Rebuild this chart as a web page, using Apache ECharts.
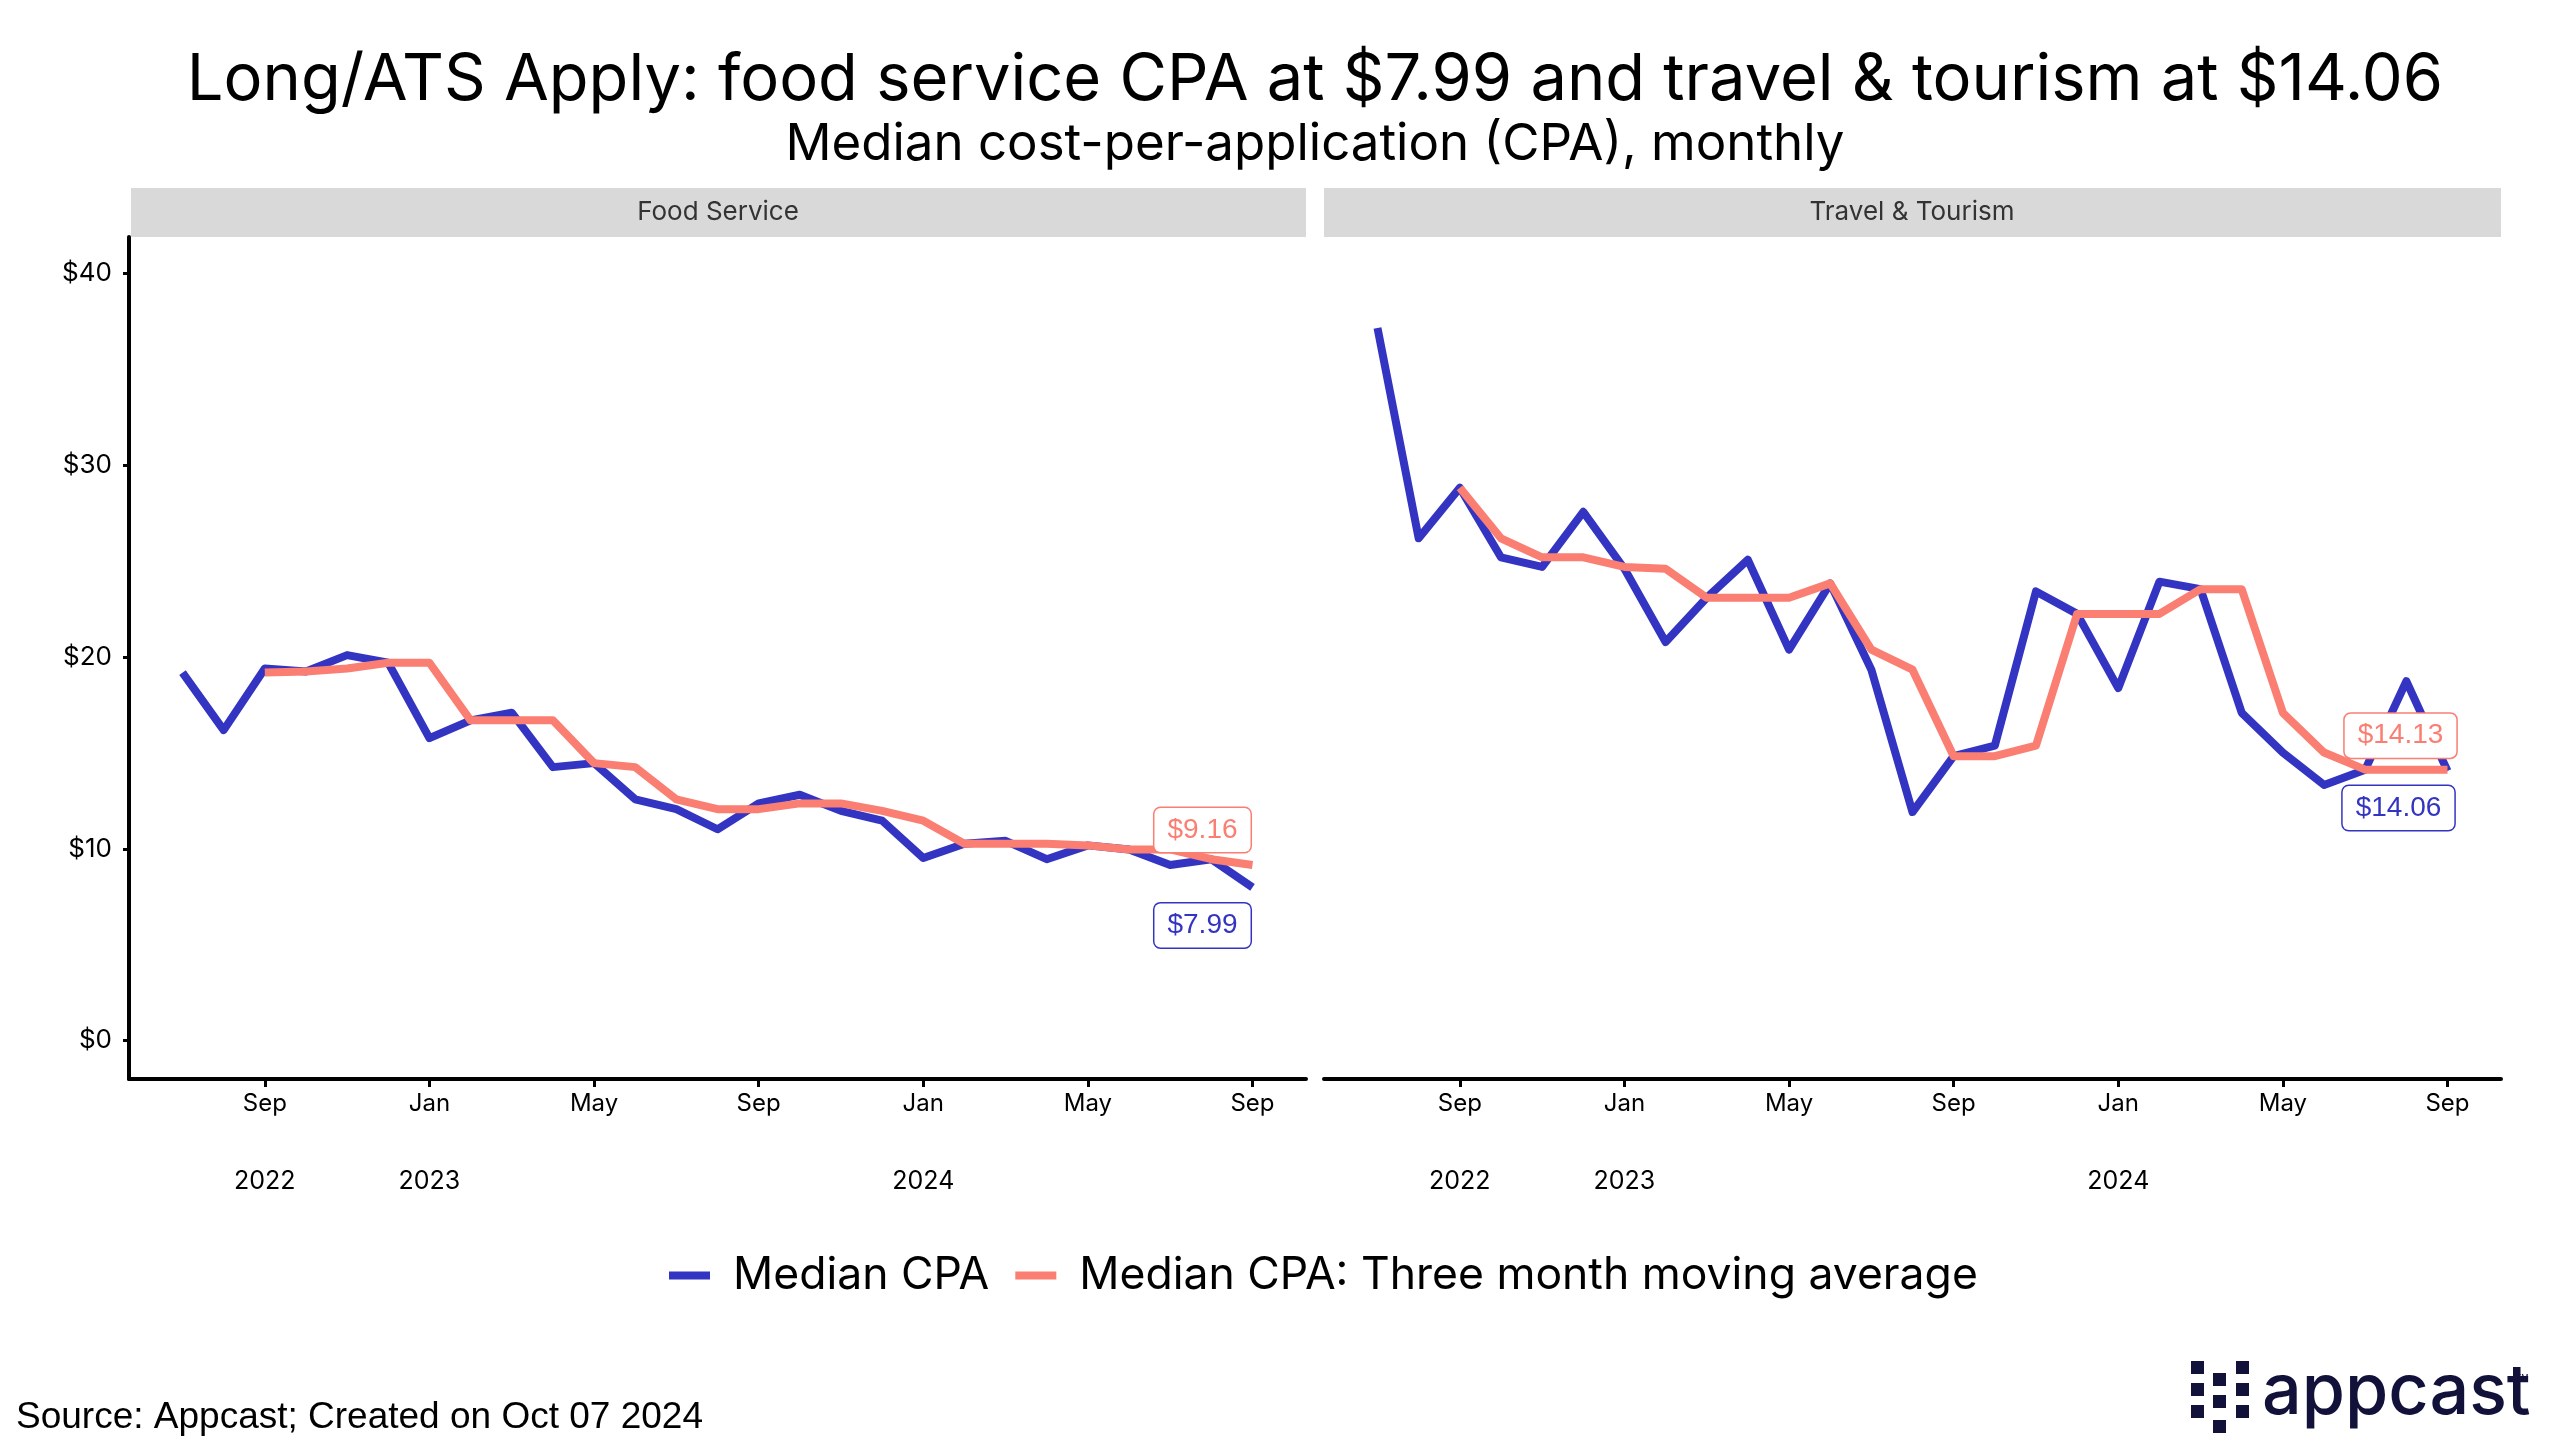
<!DOCTYPE html>
<html>
<head>
<meta charset="utf-8">
<script src="https://cdn.jsdelivr.net/npm/echarts@6/dist/echarts.min.js"></script>
<style>html,body{margin:0;padding:0;background:#fff}#c{width:2560px;height:1455px}</style>
</head>
<body>
<div id="c"></div>
<script>
// ---- data ----
const months = ['2022-07','2022-08','2022-09','2022-10','2022-11','2022-12',
  '2023-01','2023-02','2023-03','2023-04','2023-05','2023-06','2023-07','2023-08','2023-09','2023-10','2023-11','2023-12',
  '2024-01','2024-02','2024-03','2024-04','2024-05','2024-06','2024-07','2024-08','2024-09'];
const foodMedian = [19.19,16.19,19.40,19.25,20.10,19.70,15.77,16.70,17.10,14.26,14.47,12.58,12.07,11.02,12.37,12.82,11.98,11.47,9.52,10.27,10.42,9.46,10.18,9.97,9.16,9.46,7.99];
const foodAvg = [null,null,19.19,19.25,19.40,19.70,19.70,16.70,16.70,16.70,14.47,14.26,12.58,12.07,12.07,12.37,12.37,11.98,11.47,10.27,10.27,10.27,10.18,9.97,9.97,9.46,9.16];
const travelMedian = [37.15,26.19,28.83,25.20,24.70,27.57,24.60,20.78,23.09,25.07,20.39,23.84,19.34,11.92,14.83,15.38,23.42,22.25,18.38,23.93,23.54,17.09,15.02,13.33,14.13,18.74,14.06];
const travelAvg = [null,null,28.83,26.19,25.20,25.20,24.70,24.60,23.09,23.09,23.09,23.84,20.39,19.34,14.83,14.83,15.38,22.25,22.25,22.25,23.54,23.54,17.09,15.02,14.13,14.13,14.13];
const panelNames = ['Food Service','Travel & Tourism'];
const seriesNames = ['Median CPA','Median CPA: Three month moving average'];
const tickDates = ['2022-09','2023-01','2023-05','2023-09','2024-01','2024-05','2024-09'];
const tickMonthLabels = ['Sep','Jan','May','Sep','Jan','May','Sep'];
const tickYearLabels = ['2022','2023','','','2024','',''];
const yTicks = [0,10,20,30,40];

// ---- style ----
const BLUE = '#3434C2', ORANGE = '#FA7E71';
const FONT = 'Inter';
const tickIdx = tickDates.map(d => months.indexOf(d));
const pairs = arr => arr.map((v,i) => [i, v]);

const grids = [
  {left:129, top:237, width:1177, height:842},
  {left:1324, top:237, width:1177, height:842}
];

function xAxis(gi){
  return {
    gridIndex: gi, type:'value', min:-1.3, max:27.3,
    axisLine:{show:true, onZero:false, lineStyle:{color:'#000', width:4}},
    axisTick:{show:true, customValues: tickIdx, length:8, lineStyle:{color:'#000', width:3}},
    axisLabel:{
      customValues: tickIdx, margin:12, color:'#000', fontFamily:FONT,
      formatter: v => {
        const k = tickIdx.indexOf(v);
        if (k < 0) return '';
        const y = tickYearLabels[k];
        return '{m|' + tickMonthLabels[k] + '}' + (y ? '\n{y|' + y + '}' : '');
      },
      rich:{
        m:{fontSize:24, lineHeight:26, fontFamily:FONT, color:'#000'},
        y:{fontSize:25, lineHeight:128, fontFamily:FONT, color:'#000'}
      }
    },
    splitLine:{show:false}
  };
}
function yAxis(gi, show){
  return {
    gridIndex: gi, type:'value', min:-2, max:41.9,
    axisLine:{show:show, onZero:false, lineStyle:{color:'#000', width:4}},
    axisTick:{show:show, customValues:yTicks, length:6, lineStyle:{color:'#000', width:3}},
    axisLabel:{show:show, customValues:yTicks, margin:17, color:'#000', fontSize:26, fontFamily:FONT,
      formatter: v => '$' + v},
    splitLine:{show:false}
  };
}
function line(name, gi, data, color){
  return {type:'line', name, xAxisIndex:gi, yAxisIndex:gi, data:pairs(data),
    showSymbol:false, symbol:'none', connectNulls:false,
    lineStyle:{color, width:8, join:'round'}, itemStyle:{color}, z:3};
}
function endLabel(gi, data, color, offset){
  const i = data.length - 1;
  return {type:'scatter', name:'lbl'+gi+color, xAxisIndex:gi, yAxisIndex:gi,
    data:[[i, data[i]]], symbolSize:0.01, itemStyle:{color, opacity:1}, z:20, zlevel:1, silent:true,
    emphasis:{disabled:true},
    label:{show:true, position:'inside', offset, formatter: p => '$' + p.value[1].toFixed(2),
      color, opacity:1, fontFamily:'Liberation Sans', fontSize:28, lineHeight:30,
      backgroundColor:'#fff', borderColor:color, borderWidth:1.5, borderRadius:6, padding:[7,13]}};
}

const chart = echarts.init(document.getElementById('c'), null, {renderer:'canvas'});
chart.setOption({
  animation:false,
  backgroundColor:'#fff',
  grid: grids,
  xAxis:[xAxis(0), xAxis(1)],
  yAxis:[yAxis(0,true), yAxis(1,false)],
  legend:{
    data: seriesNames, left:664, top:1248, icon:'rect', itemWidth:41, itemHeight:8, itemGap:26,
    textStyle:{fontFamily:FONT, fontSize:44.5, color:'#000', padding:[0,0,0,18]}
  },
  series:[
    line(seriesNames[0], 0, foodMedian, BLUE),
    line(seriesNames[1], 0, foodAvg, ORANGE),
    line(seriesNames[0], 1, travelMedian, BLUE),
    line(seriesNames[1], 1, travelAvg, ORANGE),
    endLabel(0, foodAvg, ORANGE, [-50,-35]),
    endLabel(0, foodMedian, BLUE, [-50,38]),
    endLabel(1, travelAvg, ORANGE, [-47,-34]),
    endLabel(1, travelMedian, BLUE, [-49,37])
  ],
  graphic:[
    {type:'text', x:1315, y:80, style:{text:'Long/ATS Apply: food service CPA at $7.99 and travel & tourism at $14.06',
      fontFamily:FONT, fontSize:65, fill:'#000', align:'center', verticalAlign:'middle'}},
    {type:'text', x:1315, y:145, style:{text:'Median cost-per-application (CPA), monthly',
      fontFamily:FONT, fontSize:51, fill:'#000', align:'center', verticalAlign:'middle'}},
    {type:'rect', shape:{x:131, y:188, width:1175, height:49}, style:{fill:'#d9d9d9'}, z:-1},
    {type:'rect', shape:{x:1324, y:188, width:1177, height:49}, style:{fill:'#d9d9d9'}, z:-1},
    {type:'text', x:718, y:212, style:{text:panelNames[0], fontFamily:FONT, fontSize:26, fill:'#333', align:'center', verticalAlign:'middle'}},
    {type:'text', x:1912, y:212, style:{text:panelNames[1], fontFamily:FONT, fontSize:26, fill:'#333', align:'center', verticalAlign:'middle'}},
    {type:'text', x:16, y:1418, style:{text:'Source: Appcast; Created on Oct 07 2024', fontFamily:'Liberation Sans', fontSize:37, fill:'#000', align:'left', verticalAlign:'middle'}},
    // logo
    {type:'group', children:[
      {type:'rect', shape:{x:2191,y:1361,width:13,height:13}, style:{fill:'#11113A'}},
      {type:'rect', shape:{x:2191,y:1383,width:13,height:13}, style:{fill:'#11113A'}},
      {type:'rect', shape:{x:2191,y:1405,width:13,height:13}, style:{fill:'#11113A'}},
      {type:'rect', shape:{x:2213,y:1373,width:13,height:13}, style:{fill:'#11113A'}},
      {type:'rect', shape:{x:2213,y:1395,width:13,height:13}, style:{fill:'#11113A'}},
      {type:'rect', shape:{x:2213,y:1420,width:13,height:13}, style:{fill:'#11113A'}},
      {type:'rect', shape:{x:2236,y:1361,width:13,height:13}, style:{fill:'#11113A'}},
      {type:'rect', shape:{x:2236,y:1383,width:13,height:13}, style:{fill:'#11113A'}},
      {type:'rect', shape:{x:2236,y:1405,width:13,height:13}, style:{fill:'#11113A'}},
      {type:'text', x:2262, y:1393, style:{text:'appcast', fontFamily:FONT, fontSize:70, fontWeight:500, fill:'#11113A', align:'left', verticalAlign:'middle'}},
      {type:'text', x:2516, y:1378, style:{text:'TM', fontFamily:FONT, fontSize:8, fill:'#11113A', align:'left', verticalAlign:'middle'}}
    ]}
  ]
});
</script>
</body>
</html>
